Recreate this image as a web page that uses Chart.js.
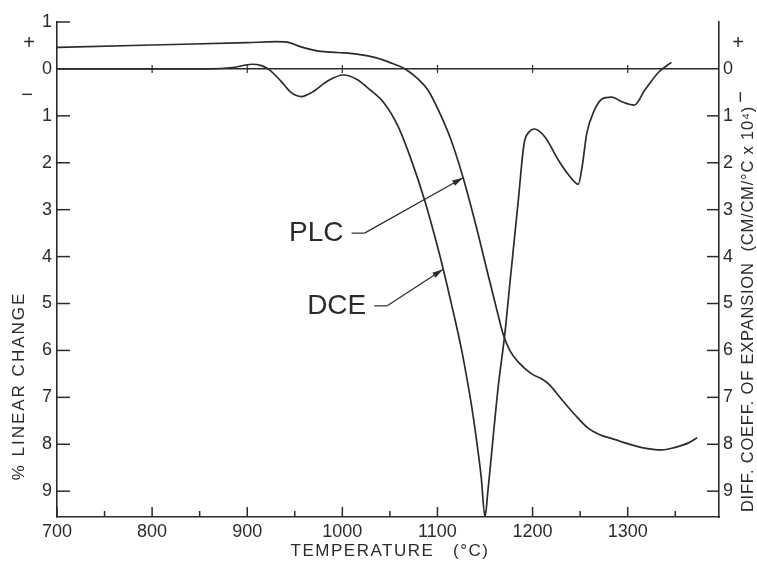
<!DOCTYPE html>
<html>
<head>
<meta charset="utf-8">
<script src="https://cdn.jsdelivr.net/npm/chart.js@4.4.1/dist/chart.umd.min.js"></script>
<style>
  html, body { margin: 0; padding: 0; background: #fff; }
  #wrap { width: 757px; height: 563px; }
</style>
</head>
<body>
<div id="wrap"><canvas id="chart" width="757" height="563"></canvas></div>
<script>
// percent linear change (PLC), + is expansion
const plcTemp = [700, 800, 900, 930, 942, 955, 975, 995, 1017, 1035, 1052, 1066, 1080, 1090, 1101, 1114, 1127, 1140, 1154, 1162, 1169, 1176, 1185, 1199, 1209, 1217, 1230, 1244, 1258, 1270, 1287, 1297, 1315, 1336, 1349, 1364, 1373];
const plcChange = [0.46, 0.51, 0.56, 0.58, 0.57, 0.48, 0.38, 0.35, 0.31, 0.24, 0.12, 0, -0.22, -0.45, -0.88, -1.5, -2.32, -3.3, -4.45, -5.1, -5.65, -6.0, -6.25, -6.5, -6.6, -6.72, -7.03, -7.36, -7.65, -7.79, -7.9, -7.97, -8.07, -8.12, -8.07, -7.97, -7.86];

// differential coefficient of expansion (DCE), cm/cm/°C x 10^-4
const dceTemp = [700, 800, 860, 885, 905, 915, 922, 935, 946, 957, 968, 985, 1001, 1015, 1027, 1044, 1058, 1073, 1087, 1102, 1110, 1118, 1125, 1131, 1136, 1141, 1146, 1150, 1153, 1164, 1171, 1176, 1185, 1191, 1196, 1202, 1213, 1227, 1238, 1248, 1252, 1257, 1265, 1273, 1283, 1294, 1307, 1318, 1333, 1346];
const dceCoeff = [0, 0, 0, 0.03, 0.1, 0.07, 0, -0.25, -0.5, -0.59, -0.5, -0.25, -0.13, -0.22, -0.41, -0.73, -1.2, -1.97, -2.83, -3.94, -4.6, -5.3, -5.95, -6.6, -7.2, -7.9, -8.7, -9.55, -9.0, -6.75, -5.62, -4.6, -2.8, -1.6, -1.35, -1.28, -1.45, -1.94, -2.26, -2.46, -2.1, -1.37, -0.88, -0.64, -0.6, -0.7, -0.77, -0.45, -0.06, 0.14];

const tempTicks = [700, 750, 800, 850, 900, 950, 1000, 1050, 1100, 1150, 1200, 1250, 1300, 1350];
const changeTicks = [1, 0, -1, -2, -3, -4, -5, -6, -7, -8, -9];
const coeffTicks = [0, -1, -2, -3, -4, -5, -6, -7, -8, -9];
const zeroLineTicks = [800, 900, 1000, 1100, 1200, 1300];

const ink = '#2b2b2b';
const face = "'Liberation Sans', Arial, sans-serif";

const toPoints = (xs, ys) => xs.map((x, i) => ({ x: x, y: ys[i] }));

// value on a curve at temperature t, straight-line between readings
function valueAt(xs, ys, t) {
  for (let i = 1; i < xs.length; i++) {
    if (t <= xs[i]) {
      const f = (t - xs[i - 1]) / (xs[i] - xs[i - 1]);
      return ys[i - 1] + f * (ys[i] - ys[i - 1]);
    }
  }
  return ys[ys.length - 1];
}

// curve labels: text anchor (temp, value) and the temperature the arrow hits
const curveNotes = [
  { text: 'PLC', at: [944, -3.5], tipTemp: 1127, xs: plcTemp, ys: plcChange },
  { text: 'DCE', at: [963, -5.05], tipTemp: 1106, xs: dceTemp, ys: dceCoeff }
];

function line(ctx, x1, y1, x2, y2) {
  ctx.beginPath();
  ctx.moveTo(x1, y1);
  ctx.lineTo(x2, y2);
  ctx.stroke();
}

function rotatedText(ctx, text, x, y, font, spacing) {
  ctx.save();
  ctx.translate(x, y);
  ctx.rotate(-Math.PI / 2);
  ctx.font = font;
  ctx.letterSpacing = spacing;
  ctx.textAlign = 'center';
  ctx.textBaseline = 'middle';
  ctx.fillText(text, 0, 0);
  ctx.restore();
}

const frameMarks = {
  id: 'frameMarks',
  afterDraw(chart) {
    const { ctx, chartArea: a } = chart;
    const xs = chart.scales.x;
    const ys = chart.scales.y;
    const y0 = ys.getPixelForValue(0);
    ctx.save();
    ctx.strokeStyle = ink;
    ctx.fillStyle = ink;
    ctx.lineWidth = 1.5;

    // inward ticks on the left and right axes
    changeTicks.forEach(v => {
      if (v === 0) return;
      const y = ys.getPixelForValue(v);
      line(ctx, a.left, y, a.left + 13, y);
    });
    coeffTicks.forEach(v => {
      if (v === 0) return;
      const y = chart.scales.y2.getPixelForValue(v);
      line(ctx, a.right - 12, y, a.right, y);
    });
    // temperature ticks along the bottom
    tempTicks.forEach(t => {
      const x = xs.getPixelForValue(t);
      const len = t % 100 === 0 ? 10 : 6;
      line(ctx, x, a.bottom, x, a.bottom - len);
    });
    // small crossings on the zero line
    ctx.lineWidth = 1.2;
    zeroLineTicks.forEach(t => {
      const x = xs.getPixelForValue(t);
      line(ctx, x, y0 - 4, x, y0 + 4);
    });

    // sign markers beside the zero line
    ctx.font = '20px ' + face;
    ctx.textAlign = 'center';
    ctx.textBaseline = 'middle';
    ctx.fillText('+', 29, 43);
    ctx.fillText('\u2212', 27, 95);
    ctx.fillText('+', 738, 43);
    rotatedText(ctx, '\u2212', 741, 97, '20px ' + face, '0px');

    // axis titles
    rotatedText(ctx, '% LINEAR CHANGE', 19, 386, '17px ' + face, '2px');
    rotatedText(ctx, 'DIFF. COEFF. OF EXPANSION  (CM/CM/\u00B0C x 10\u2074)', 748, 309, '16.5px ' + face, '0.8px');
    ctx.font = '17px ' + face;
    ctx.letterSpacing = '1.5px';
    ctx.textAlign = 'center';
    ctx.textBaseline = 'middle';
    ctx.fillText('TEMPERATURE   (\u00B0C)', 390, 551);
    ctx.letterSpacing = '0px';

    // curve names with leader arrows
    ctx.lineWidth = 1.2;
    curveNotes.forEach(n => {
      const tx = xs.getPixelForValue(n.at[0]);
      const ty = ys.getPixelForValue(n.at[1]);
      ctx.font = '28px ' + face;
      ctx.textAlign = 'left';
      ctx.textBaseline = 'middle';
      ctx.fillText(n.text, tx, ty);
      const w = ctx.measureText(n.text).width;
      const sx = tx + w + 8;
      const px = xs.getPixelForValue(n.tipTemp);
      const py = ys.getPixelForValue(valueAt(n.xs, n.ys, n.tipTemp));
      line(ctx, sx, ty, sx + 13, ty);
      line(ctx, sx + 13, ty, px, py);
      const ang = Math.atan2(py - ty, px - (sx + 13));
      ctx.beginPath();
      ctx.moveTo(px, py);
      ctx.lineTo(px - 11 * Math.cos(ang) + 3 * Math.sin(ang), py - 11 * Math.sin(ang) - 3 * Math.cos(ang));
      ctx.lineTo(px - 11 * Math.cos(ang) - 3 * Math.sin(ang), py - 11 * Math.sin(ang) + 3 * Math.cos(ang));
      ctx.closePath();
      ctx.fill();
    });
    ctx.restore();
  }
};

const tickFont = { family: face, size: 18 };

new Chart(document.getElementById('chart'), {
  type: 'line',
  data: {
    datasets: [
      {
        label: 'PLC',
        data: toPoints(plcTemp, plcChange),
        yAxisID: 'y',
        borderColor: ink,
        borderWidth: 1.7,
        pointRadius: 0,
        cubicInterpolationMode: 'monotone',
        fill: false
      },
      {
        label: 'DCE',
        data: toPoints(dceTemp, dceCoeff),
        yAxisID: 'y2',
        borderColor: ink,
        borderWidth: 1.7,
        pointRadius: 0,
        cubicInterpolationMode: 'monotone',
        fill: false
      }
    ]
  },
  options: {
    responsive: false,
    animation: false,
    layout: { padding: { top: 22 } },
    plugins: {
      legend: { display: false },
      tooltip: { enabled: false }
    },
    scales: {
      x: {
        type: 'linear',
        min: 700,
        max: 1396,
        afterBuildTicks: s => { s.ticks = tempTicks.map(v => ({ value: v })); },
        afterFit: s => { s.height = 46; },
        ticks: {
          autoSkip: false,
          maxRotation: 0,
          padding: 4,
          color: ink,
          font: tickFont,
          callback: v => (v % 100 === 0 && v <= 1300) ? String(v) : ''
        },
        grid: { display: false, drawTicks: false },
        border: { color: ink, width: 1.6 }
      },
      y: {
        position: 'left',
        min: -9.55,
        max: 1,
        afterBuildTicks: s => { s.ticks = changeTicks.map(v => ({ value: v })); },
        afterFit: s => { s.width = 57; },
        ticks: {
          padding: 5,
          color: ink,
          font: tickFont,
          callback: v => String(Math.abs(v))
        },
        grid: {
          drawTicks: false,
          color: c => (c.tick && c.tick.value === 0) ? ink : 'rgba(0,0,0,0)',
          lineWidth: 1.4
        },
        border: { color: ink, width: 1.6 }
      },
      y2: {
        position: 'right',
        min: -9.55,
        max: 1,
        afterBuildTicks: s => { s.ticks = coeffTicks.map(v => ({ value: v })); },
        afterFit: s => { s.width = 38; },
        ticks: {
          padding: 4,
          color: ink,
          font: tickFont,
          callback: v => String(Math.abs(v))
        },
        grid: { display: false, drawTicks: false },
        border: { color: ink, width: 1.6 }
      }
    }
  },
  plugins: [frameMarks]
});
</script>
</body>
</html>
